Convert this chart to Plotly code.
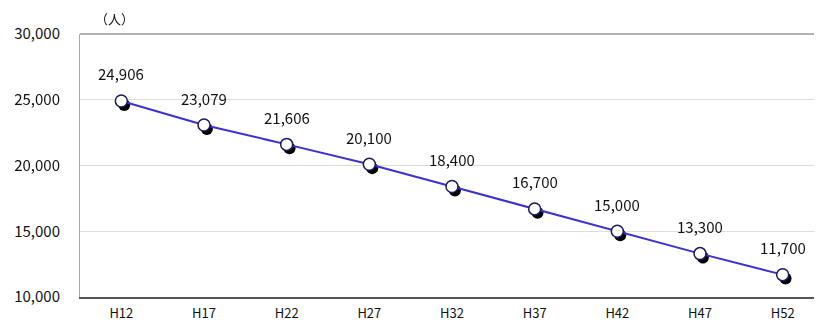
import plotly.graph_objects as go

# Population forecast (人)
years = ['H12', 'H17', 'H22', 'H27', 'H32', 'H37', 'H42', 'H47', 'H52']
population = [24906, 23079, 21606, 20100, 18400, 16700, 15000, 13300, 11700]
y_ticks = [10000, 15000, 20000, 25000, 30000]

font_jp = 'Noto Sans CJK JP, Liberation Sans, Arial'

fig = go.Figure()

# Invisible trace so the base axes (ticks, grid) get drawn
fig.add_trace(go.Scatter(
    x=years, y=population, mode='markers', opacity=0,
    hoverinfo='skip', showlegend=False
))

# Drop shadow under each marker (same data, drawn on a slightly shifted overlay axis)
fig.add_trace(go.Scatter(
    x=years, y=population, mode='markers',
    xaxis='x2', yaxis='y2',
    marker=dict(size=12, color='black'),
    hoverinfo='skip', showlegend=False
))

# Main line with white markers, on a second overlay so it sits above the shadow
fig.add_trace(go.Scatter(
    x=years, y=population, mode='lines+markers',
    xaxis='x3', yaxis='y3',
    line=dict(color='#3b2fd6', width=2),
    marker=dict(size=12, color='white', line=dict(color='#1a1a5e', width=1.5)),
    showlegend=False
))

# Value labels above the points
for yr, val in zip(years, population):
    fig.add_annotation(
        x=yr, y=val, text=f'{val:,}', showarrow=False,
        yshift=27, font=dict(family=font_jp, size=15, color='#111111')
    )

fig.add_annotation(
    xref='paper', yref='paper', x=0.046, y=1.0, yshift=16,
    xanchor='center', yanchor='middle',
    text='（人）', showarrow=False,
    font=dict(family=font_jp, size=13, color='#111111')
)

# page body has an 8px margin, so margins are set 8px smaller
fig.update_layout(
    width=822, height=322,
    margin=dict(l=72, r=6, t=26, b=33),
    paper_bgcolor='white', plot_bgcolor='white',
    xaxis=dict(
        type='category', range=[-0.5, 8.5],
        showline=True, linecolor='#555555', linewidth=1.5, mirror=False,
        showgrid=False, ticks='', ticklen=0, ticklabelstandoff=4,
        tickfont=dict(family=font_jp, size=13, color='#111111')
    ),
    xaxis2=dict(
        type='category', overlaying='x', range=[-0.535, 8.465],
        visible=False
    ),
    xaxis3=dict(
        type='category', overlaying='x', range=[-0.5, 8.5],
        visible=False
    ),
    yaxis=dict(
        range=[10000, 30000], tickvals=y_ticks,
        ticktext=[f'{v:,}' for v in y_ticks],
        showline=True, linecolor='#aaaaaa', linewidth=1,
        showgrid=True, gridcolor='#dddddd', gridwidth=1,
        zeroline=False, ticks='', ticklabelstandoff=16,
        tickfont=dict(family=font_jp, size=15, color='#111111')
    ),
    yaxis2=dict(
        overlaying='y', range=[10300, 30300], visible=False
    ),
    yaxis3=dict(
        overlaying='y', range=[10000, 30000], visible=False
    ),
    shapes=[dict(
        type='line', xref='paper', yref='paper', x0=0, x1=1, y0=1, y1=1,
        line=dict(color='#999999', width=1.5)
    )]
)

fig.write_html("out.html")
